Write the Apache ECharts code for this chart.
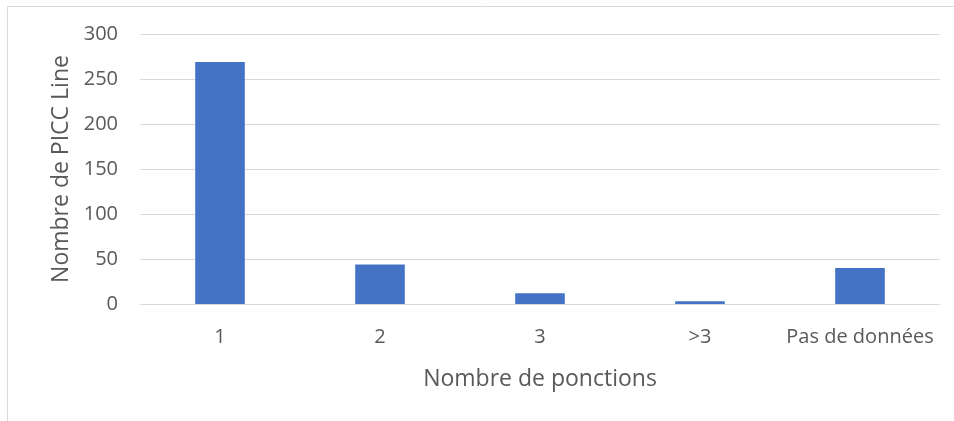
<!DOCTYPE html>
<html>
<head>
<meta charset="utf-8">
<script src="https://cdn.jsdelivr.net/npm/echarts@6/dist/echarts.min.js"></script>
<style>
  html, body { margin: 0; padding: 0; background: #fff; }
  #chart { width: 954px; height: 421px; }
</style>
</head>
<body>
<div id="chart"></div>
<script>
// données du graphique
let categories = ['1', '2', '3', '>3', 'Pas de données'];
let piccValues = [269, 44, 12, 3, 40];
let yTicks = [0, 50, 100, 150, 200, 250, 300];

let textColor = '#595959';
let fontName = 'Open Sans';

let chart = echarts.init(document.getElementById('chart'));

let option = {
    animation: false,
    backgroundColor: '#fff',
    // cadre gris autour du graphique
    graphic: [{
        type: 'rect',
        shape: { x: 7.5, y: 6.5, width: 1000, height: 1000 },
        style: { fill: 'none', stroke: '#d9d9d9', lineWidth: 1 },
        silent: true
    }],
    grid: {
        left: 140,
        right: 14,
        top: 34,
        bottom: 117
    },
    xAxis: {
        type: 'category',
        data: categories,
        name: 'Nombre de ponctions',
        nameLocation: 'middle',
        nameGap: 64,
        nameTextStyle: { color: textColor, fontSize: 23, fontFamily: fontName },
        axisLine: { lineStyle: { color: '#d9d9d9', width: 1 } },
        axisTick: { show: false },
        axisLabel: { color: textColor, fontSize: 20, fontFamily: fontName, margin: 23, interval: 0 }
    },
    yAxis: {
        type: 'value',
        min: yTicks[0],
        max: yTicks[yTicks.length - 1],
        interval: 50,
        name: 'Nombre de PICC Line',
        nameLocation: 'middle',
        nameGap: 66,
        nameTextStyle: { color: textColor, fontSize: 23, fontFamily: fontName },
        axisLine: { show: false },
        axisTick: { show: false },
        axisLabel: { color: textColor, fontSize: 20, fontFamily: fontName, margin: 22 },
        splitLine: { lineStyle: { color: '#d9d9d9', width: 1 } }
    },
    series: [{
        name: 'Nombre de PICC Line',
        type: 'bar',
        data: piccValues,
        barWidth: '31%',
        itemStyle: { color: '#4472C4' }
    }]
};

chart.setOption(option);
</script>
</body>
</html>
